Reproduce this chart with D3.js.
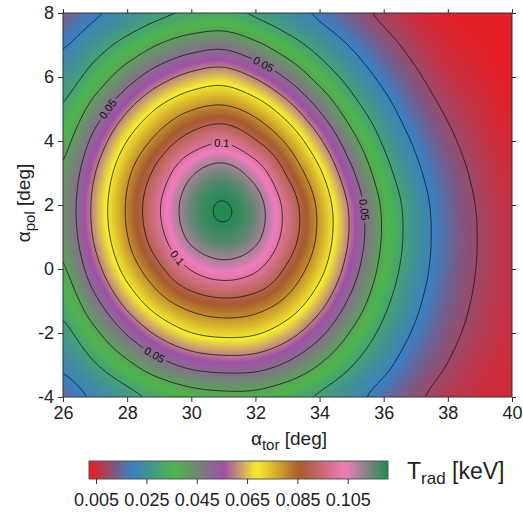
<!DOCTYPE html>
<html>
<head>
<meta charset="utf-8">
<script src="https://cdn.jsdelivr.net/npm/d3@7"></script>
<style>
	body { margin: 0; background: #fff; }
	svg text { font-family: "Liberation Sans", Arial, sans-serif; fill: #222; }
</style>
</head>
<body>
<svg id="chart" width="523" height="515"></svg>
<script>
// Grid axes of the measurement
var torValues = [26, 27, 28, 29, 30, 31, 32, 33, 34, 35, 36, 37, 38, 39, 40];
var polValues = [8, 7, 6, 5, 4, 3, 2, 1, 0, -1, -2, -3, -4];

// T_rad [keV], one row per alpha_pol (8 .. -4), columns alpha_tor 26 .. 40
var tradRows = [
	[0.0139, 0.0189, 0.0240, 0.0283, 0.0313, 0.0324, 0.0289, 0.0241, 0.0186, 0.0131, 0.0086, 0.0051, 0.0032, 0.0024, 0.0018],
	[0.0193, 0.0261, 0.0332, 0.0404, 0.0457, 0.0476, 0.0421, 0.0343, 0.0265, 0.0192, 0.0127, 0.0078, 0.0046, 0.0033, 0.0022],
	[0.0253, 0.0344, 0.0456, 0.0559, 0.0629, 0.0654, 0.0591, 0.0486, 0.0365, 0.0263, 0.0178, 0.0111, 0.0066, 0.0043, 0.0027],
	[0.0312, 0.0442, 0.0588, 0.0712, 0.0793, 0.0820, 0.0760, 0.0642, 0.0491, 0.0343, 0.0234, 0.0147, 0.0090, 0.0057, 0.0034],
	[0.0370, 0.0533, 0.0701, 0.0836, 0.0943, 0.0989, 0.0907, 0.0781, 0.0616, 0.0434, 0.0288, 0.0186, 0.0115, 0.0070, 0.0042],
	[0.0415, 0.0598, 0.0779, 0.0938, 0.1087, 0.1140, 0.1058, 0.0887, 0.0716, 0.0517, 0.0340, 0.0220, 0.0137, 0.0083, 0.0050],
	[0.0435, 0.0626, 0.0810, 0.0992, 0.1150, 0.1203, 0.1140, 0.0963, 0.0776, 0.0575, 0.0381, 0.0246, 0.0151, 0.0093, 0.0057],
	[0.0426, 0.0614, 0.0796, 0.0968, 0.1123, 0.1176, 0.1123, 0.0958, 0.0778, 0.0581, 0.0387, 0.0251, 0.0155, 0.0096, 0.0060],
	[0.0390, 0.0563, 0.0737, 0.0880, 0.1007, 0.1059, 0.1015, 0.0883, 0.0731, 0.0545, 0.0366, 0.0241, 0.0151, 0.0094, 0.0060],
	[0.0335, 0.0480, 0.0636, 0.0767, 0.0850, 0.0884, 0.0860, 0.0778, 0.0642, 0.0477, 0.0326, 0.0218, 0.0138, 0.0088, 0.0058],
	[0.0276, 0.0382, 0.0509, 0.0622, 0.0698, 0.0724, 0.0710, 0.0639, 0.0524, 0.0390, 0.0276, 0.0187, 0.0120, 0.0079, 0.0055],
	[0.0217, 0.0293, 0.0378, 0.0464, 0.0524, 0.0546, 0.0538, 0.0483, 0.0397, 0.0304, 0.0223, 0.0149, 0.0098, 0.0066, 0.0050],
	[0.0159, 0.0217, 0.0274, 0.0325, 0.0364, 0.0379, 0.0376, 0.0342, 0.0289, 0.0230, 0.0168, 0.0113, 0.0076, 0.0055, 0.0046]
];

// Contour levels and the labelled ones (level, approx. place)
var contourLevels = [0.01, 0.02, 0.03, 0.04, 0.05, 0.06, 0.07, 0.08, 0.09, 0.10, 0.11, 0.12];
var labelLevels = [0.05, 0.05, 0.05, 0.05, 0.1, 0.1];
var labelTor = [27.4, 32.3, 35.3, 28.9, 30.96, 29.4];
var labelPol = [5.0, 6.5, 1.85, -2.6, 3.94, 0.2];

// Colour map
var colorStops = [0.003, 0.019, 0.036, 0.056, 0.069, 0.086, 0.104, 0.121];
var colorList = ['#e41f26', '#3a7fc1', '#4cb549', '#a04fa8', '#f7ef2b', '#a65a2e', '#f07cbd', '#1b8c4e'];

// Ticks
var xTicks = [26, 28, 30, 32, 34, 36, 38, 40];
var yTicks = [-4, -2, 0, 2, 4, 6, 8];
var barTicks = [0.005, 0.025, 0.045, 0.065, 0.085, 0.105];
var barDomain = [0.0022, 0.121];

var attrs = {
	plotLeft: 63,
	plotRight: 512,
	plotTop: 13,
	plotBottom: 397,
	barLeft: 89,
	barRight: 388,
	barTop: 461,
	barBottom: 479,
	tickSize: 5,
	frameColor: '#333'
};

var svg = d3.select('#chart');

var x = d3.scaleLinear().domain([26, 40]).range([attrs.plotLeft, attrs.plotRight]);
var y = d3.scaleLinear().domain([-4, 8]).range([attrs.plotBottom, attrs.plotTop]);
var color = d3.scaleLinear().domain(colorStops).range(colorList).clamp(true);

// Catmull-Rom interpolation of the measured grid (for smooth shading only)
function cr(p0, p1, p2, p3, t) {
	return 0.5 * (2 * p1 + (-p0 + p2) * t + (2 * p0 - 5 * p1 + 4 * p2 - p3) * t * t + (-p0 + 3 * p1 - 3 * p2 + p3) * t * t * t);
}

function sample(tor, pol) {
	var nx = torValues.length, ny = polValues.length;
	var fx = (tor - torValues[0]) / (torValues[1] - torValues[0]);
	var fy = (polValues[0] - pol) / (polValues[0] - polValues[1]);
	var ix = Math.max(0, Math.min(nx - 2, Math.floor(fx)));
	var iy = Math.max(0, Math.min(ny - 2, Math.floor(fy)));
	var tx = Math.max(0, Math.min(1, fx - ix));
	var ty = Math.max(0, Math.min(1, fy - iy));
	function v(i, j) {
		i = Math.max(0, Math.min(nx - 1, i));
		j = Math.max(0, Math.min(ny - 1, j));
		return tradRows[j][i];
	}
	var cols = [];
	for (var k = -1; k <= 2; k++) {
		cols.push(cr(v(ix - 1, iy + k), v(ix, iy + k), v(ix + 1, iy + k), v(ix + 2, iy + k), tx));
	}
	return cr(cols[0], cols[1], cols[2], cols[3], ty);
}

// Heat map drawn into a canvas, then put into the svg
var pw = attrs.plotRight - attrs.plotLeft;
var ph = attrs.plotBottom - attrs.plotTop;
var canvas = document.createElement('canvas');
canvas.width = pw;
canvas.height = ph;
var ctx = canvas.getContext('2d');
var img = ctx.createImageData(pw, ph);
for (var j = 0; j < ph; j++) {
	for (var i = 0; i < pw; i++) {
		var val = sample(x.invert(attrs.plotLeft + i + 0.5), y.invert(attrs.plotTop + j + 0.5));
		var c = d3.rgb(color(val));
		var o = (j * pw + i) * 4;
		img.data[o] = c.r;
		img.data[o + 1] = c.g;
		img.data[o + 2] = c.b;
		img.data[o + 3] = 255;
	}
}
ctx.putImageData(img, 0, 0);

var defs = svg.append('defs');
defs.append('clipPath').attr('id', 'plotClip')
	.append('rect')
	.attr('x', attrs.plotLeft).attr('y', attrs.plotTop)
	.attr('width', pw).attr('height', ph);

svg.append('image')
	.attr('x', attrs.plotLeft).attr('y', attrs.plotTop)
	.attr('width', pw).attr('height', ph)
	.attr('preserveAspectRatio', 'none')
	.attr('href', canvas.toDataURL());

// Contours on a fine resampled grid
var step = 0.05;
var gx = Math.round((40 - 26) / step) + 1;
var gy = Math.round((8 - (-4)) / step) + 1;
var fine = new Array(gx * gy);
for (var j = 0; j < gy; j++) {
	for (var i = 0; i < gx; i++) {
		fine[j * gx + i] = sample(26 + i * step, 8 - j * step);
	}
}
var contours = d3.contours().size([gx, gy]).thresholds(contourLevels)(fine);

function toPx(p) {
	return [x(26 + (p[0] - 0.5) * step), y(8 - (p[1] - 0.5) * step)];
}

var path = d3.geoPath(d3.geoTransform({
	point: function (px, py) {
		var q = toPx([px, py]);
		this.stream.point(q[0], q[1]);
	}
}));

var mask = defs.append('mask').attr('id', 'labelGaps')
	.attr('maskUnits', 'userSpaceOnUse')
	.attr('x', 0).attr('y', 0).attr('width', 523).attr('height', 515);
mask.append('rect').attr('x', 0).attr('y', 0).attr('width', 523).attr('height', 515).attr('fill', '#fff');

var lineGroup = svg.append('g').attr('clip-path', 'url(#plotClip)');
lineGroup.append('g')
	.attr('mask', 'url(#labelGaps)')
	.selectAll('path')
	.data(contours)
	.enter().append('path')
	.attr('d', path)
	.attr('fill', 'none')
	.attr('stroke', '#151515')
	.attr('stroke-width', 0.8);

// Contour labels placed on the nearest point of their line
var labelGroup = svg.append('g');
labelLevels.forEach(function (lv, k) {
	var cont = contours.find(function (c) { return Math.abs(c.value - lv) < 1e-9; });
	var hx = x(labelTor[k]), hy = y(labelPol[k]);
	var best = null;
	cont.coordinates.forEach(function (poly) {
		poly.forEach(function (ring) {
			var pts = ring.map(toPx);
			pts.forEach(function (p, idx) {
				var d = (p[0] - hx) * (p[0] - hx) + (p[1] - hy) * (p[1] - hy);
				if (!best || d < best.d) {
					best = { d: d, pts: pts, idx: idx };
				}
			});
		});
	});
	var pts = best.pts, n = pts.length;
	var a = pts[(best.idx - 4 + n) % n], b = pts[(best.idx + 4) % n], p = pts[best.idx];
	var ang = Math.atan2(b[1] - a[1], b[0] - a[0]) * 180 / Math.PI;
	if (ang > 90) ang -= 180;
	if (ang < -90) ang += 180;
	var t = labelGroup.append('text')
		.attr('transform', 'translate(' + p[0] + ',' + p[1] + ') rotate(' + ang + ')')
		.attr('text-anchor', 'middle')
		.attr('dy', '0.35em')
		.attr('font-size', 11)
		.style('fill', '#111')
		.text(String(lv));
	var w = t.node().getComputedTextLength() + 5;
	mask.append('rect')
		.attr('x', -w / 2).attr('y', -5)
		.attr('width', w).attr('height', 10)
		.attr('fill', '#000')
		.attr('transform', 'translate(' + p[0] + ',' + p[1] + ') rotate(' + ang + ')');
});

// Frame and axes
svg.append('rect')
	.attr('x', attrs.plotLeft).attr('y', attrs.plotTop)
	.attr('width', pw).attr('height', ph)
	.attr('fill', 'none').attr('stroke', attrs.frameColor).attr('stroke-width', 1);

function styleAxis(g, showText) {
	g.select('.domain').remove();
	g.selectAll('line').attr('stroke', attrs.frameColor);
	g.selectAll('text').attr('font-size', 18).style('fill', '#222');
	if (!showText) g.selectAll('text').remove();
}

var plainInt = function (d) { return String(d); };

svg.append('g').attr('transform', 'translate(0,' + attrs.plotBottom + ')')
	.call(d3.axisBottom(x).tickValues(xTicks).tickSize(attrs.tickSize).tickPadding(4).tickFormat(plainInt))
	.call(styleAxis, true);
svg.append('g').attr('transform', 'translate(0,' + attrs.plotTop + ')')
	.call(d3.axisTop(x).tickValues(xTicks).tickSize(4))
	.call(styleAxis, false);
svg.append('g').attr('transform', 'translate(' + attrs.plotLeft + ',0)')
	.call(d3.axisLeft(y).tickValues(yTicks).tickSize(attrs.tickSize).tickPadding(4).tickFormat(plainInt))
	.call(styleAxis, true);
svg.append('g').attr('transform', 'translate(' + attrs.plotRight + ',0)')
	.call(d3.axisRight(y).tickValues(yTicks).tickSize(4))
	.call(styleAxis, false);

// Axis titles
var xt = svg.append('text')
	.attr('x', 289).attr('y', 445)
	.attr('text-anchor', 'middle')
	.attr('font-size', 19);
xt.append('tspan').text('\u03b1');
xt.append('tspan').attr('font-size', 15).attr('dy', 5).text('tor');
xt.append('tspan').attr('dy', -5).text(' [deg]');

var yt = svg.append('text')
	.attr('transform', 'translate(30,203) rotate(-90)')
	.attr('text-anchor', 'middle')
	.attr('font-size', 19);
yt.append('tspan').text('\u03b1');
yt.append('tspan').attr('font-size', 15).attr('dy', 5).text('pol');
yt.append('tspan').attr('dy', -5).text(' [deg]');

// Colour bar
var bx = d3.scaleLinear().domain(barDomain).range([attrs.barLeft, attrs.barRight]);
var grad = defs.append('linearGradient').attr('id', 'barGrad')
	.attr('x1', '0%').attr('x2', '100%').attr('y1', '0%').attr('y2', '0%');
d3.range(0, 61).forEach(function (s) {
	var f = s / 60;
	grad.append('stop')
		.attr('offset', (f * 100) + '%')
		.attr('stop-color', color(barDomain[0] + f * (barDomain[1] - barDomain[0])));
});
svg.append('rect')
	.attr('x', attrs.barLeft).attr('y', attrs.barTop)
	.attr('width', attrs.barRight - attrs.barLeft).attr('height', attrs.barBottom - attrs.barTop)
	.attr('fill', 'url(#barGrad)')
	.attr('stroke', '#555').attr('stroke-width', 1);

svg.append('g').attr('transform', 'translate(0,' + attrs.barBottom + ')')
	.call(d3.axisBottom(bx).tickValues(barTicks).tickSize(5).tickPadding(9).tickFormat(d3.format('.3f')))
	.call(styleAxis, true);

var bt = svg.append('text')
	.attr('x', 407).attr('y', 479)
	.attr('font-size', 23);
bt.append('tspan').text('T');
bt.append('tspan').attr('font-size', 17).attr('dy', 5).text('rad');
bt.append('tspan').attr('dy', -5).text(' [keV]');
</script>
</body>
</html>
